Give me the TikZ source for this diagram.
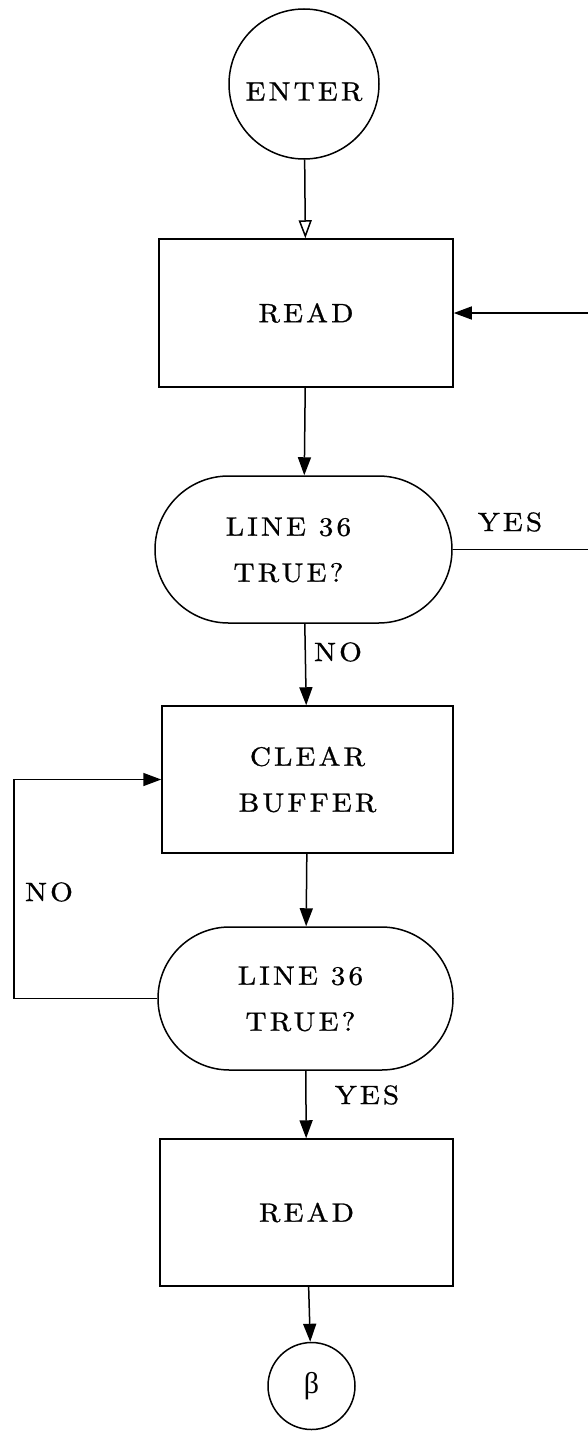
\documentclass[tikz,border=0pt]{standalone}
\usepackage{fontspec}
\usetikzlibrary{arrows.meta,shapes.misc}
\newfontfamily\lblfont{lmroman10-regular.otf}[LetterSpace=12,FakeStretch=1.1,FakeBold=1]
\newfontfamily\grkfont{Liberation Serif}
\tikzset{
  every node/.style={inner sep=0pt},
  txt/.style={font=\lblfont\fontsize{26.5}{46}\selectfont, align=center},
  procbox/.style={txt, draw, line width=1.5pt, rectangle},
  decbox/.style={txt, draw, line width=1.5pt, rounded rectangle},
  termcirc/.style={txt, draw, line width=1.5pt, circle},
  conn/.style={line width=1.5pt},
  arr/.style={conn, -{Triangle[length=18pt,width=13pt]}},
  oarr/.style={conn, -{Triangle[open,length=18pt,width=13pt]}},
  lbl/.style={txt}
}
\newcommand{\twoline}[3]{\raisebox{#3}{\begin{tabular}{@{}c@{}}#1\\#2\end{tabular}}}
\begin{document}
\begin{tikzpicture}[x=1pt,y=-1pt]
\useasboundingbox (0,0) rectangle (588,1432);
\node[termcirc, minimum size=150pt, text height=33pt, text depth=0pt] (enter) at (304,84) {ENTER};
\node[procbox, minimum width=294pt, minimum height=148pt] (read1) at (306,313) {READ};
\node[decbox, minimum width=297pt, minimum height=147pt] (dec1) at (303.5,549.5) {\hspace*{-30pt}\twoline{LINE 36}{TRUE?}{9pt}};
\node[procbox, minimum width=291pt, minimum height=147pt] (clear) at (307.5,779.5) {\twoline{CLEAR}{BUFFER}{-3pt}};
\node[decbox, minimum width=295pt, minimum height=143pt] (dec2) at (305.5,998.5) {\hspace*{-10pt}\twoline{LINE 36}{TRUE?}{0pt}};
\node[procbox, minimum width=293pt, minimum height=147pt] (read2) at (306.5,1212.5) {READ};
\node[termcirc, minimum size=87pt] (beta) at (311.5,1386) {\grkfont\fontsize{30}{34}\selectfont β};

\node[lbl] (yes1) at (510,522) {YES};
\node[lbl] (no1) at (338,652) {NO};
\node[lbl] (no2) at (49,892) {NO};
\node[lbl] (yes2) at (367,1095) {YES};

\coordinate (rx) at (588,0);
\coordinate (lx) at (14,0);

\draw[oarr] (enter) -- (read1);
\draw[arr] (read1) -- (dec1);
\draw[conn] (dec1.east) -- (dec1.east -| rx);
\draw[arr] (read1.east -| rx) -- (read1.east);
\draw[arr] (dec1) -- (clear);
\draw[arr] (clear) -- (dec2);
\draw[arr] (dec2.west) -- (dec2.west -| lx) |- (clear.west);
\draw[arr] (dec2) -- (read2);
\draw[arr] (read2) -- (beta);
\end{tikzpicture}
\end{document}
